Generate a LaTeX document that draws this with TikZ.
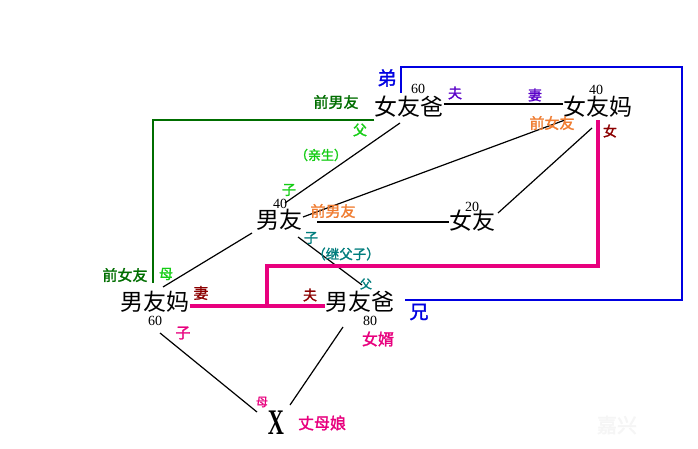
\documentclass[tikz,border=0pt]{standalone}
\usepackage{fontspec}
\newfontfamily\cjk{Noto Sans CJK SC}
\newfontfamily\cjkb[FakeBold=1.6]{Noto Sans CJK SC}
\newfontfamily\numfont{Liberation Serif}
\usepackage{tikz}
\definecolor{linkpink}{RGB}{232, 0, 126}
\definecolor{bluelink}{RGB}{0, 0, 225}
\definecolor{dkgreen}{RGB}{0, 110, 0}
\definecolor{ltgreen}{RGB}{20, 205, 20}
\definecolor{purple1}{RGB}{90, 0, 200}
\definecolor{orange1}{RGB}{240, 125, 50}
\definecolor{dkred}{RGB}{140, 0, 0}
\definecolor{teal1}{RGB}{0, 125, 125}

\begin{document}
\begin{tikzpicture}[
  x=1pt, y=-1pt,
  person/.style={inner sep=0pt, font=\cjk\fontsize{23pt}{23pt}\selectfont},
  lbl/.style={text=#1, inner sep=0pt, font=\cjkb\fontsize{14pt}{14pt}\selectfont},
  sz/.style={font=\cjkb\fontsize{#1pt}{#1pt}\selectfont},
  age/.style={inner sep=0pt, font=\numfont\fontsize{14pt}{14pt}\selectfont},
  kin/.style={draw=black, line width=1.2pt},
]
  \fill[white] (0,0) rectangle (698,449);
  \useasboundingbox (0,0) rectangle (698,449);

  % people
  \node[person] (gfdad) at (409,107) {女友爸};
  \node[person] (gfmom) at (598,107) {女友妈};
  \node[person] (bf) at (279,220) {男友};
  \node[person] (gf) at (472,221) {女友};
  \node[person] (bfmom) at (155,302) {男友妈};
  \node[person] (bfdad) at (360,302) {男友爸};
  \node[inner sep=0pt, font=\numfont\bfseries\fontsize{36pt}{36pt}\selectfont] (x) at (276,423) {\scalebox{0.62}[1]{X}};

  % ages
  \node[age] (agegfdad) at (418,89) {60};
  \node[age] (agegfmom) at (596,90) {40};
  \node[age] (agebf) at (280,204) {40};
  \node[age] (agegf) at (472,207) {20};
  \node[age] (agebfmom) at (155,321) {60};
  \node[age] (agebfdad) at (370,321) {80};

  % line ends
  \coordinate (gfdadsw) at (400,123);
  \coordinate (bfne) at (285,203);
  \coordinate (bfe) at (303,217);
  \coordinate (gfmomsw) at (565,120);
  \coordinate (gfne) at (498,213);
  \coordinate (gfmoms) at (592,128);
  \coordinate (bfsw) at (252,233);
  \coordinate (bfmomne) at (163,287);
  \coordinate (bfse) at (298,237);
  \coordinate (bfdadnw) at (362,285);
  \coordinate (bfmomse) at (160,333);
  \coordinate (xnw) at (257,412);
  \coordinate (bfdadsw) at (343,327);
  \coordinate (xne) at (290,405);
  \coordinate (bfdade) at (405,300);

  \draw[kin] (gfdad.east |- 0,104) -- (gfmom.west |- 0,104);
  \draw[kin] (gfdadsw) -- (bfne);
  \draw[kin] (bfe) -- (gfmomsw);
  \draw[kin] (bf.east |- 0,222) ++(15,0) -- (gf.west |- 0,222);
  \draw[kin] (gfne) -- (gfmoms);
  \draw[kin] (bfsw) -- (bfmomne);
  \draw[kin] (bfse) -- (bfdadnw);
  \draw[kin] (bfmomse) -- (xnw);
  \draw[kin] (bfdadsw) -- (xne);

  % step family links
  \draw[linkpink, line width=4.5pt] (bfmom.east |- 0,306) -- (bfdad.west |- 0,306);
  \draw[linkpink, line width=4.5pt] (267,306) -- (267,266) -- (598,266) -- (gfmom.south |- 0,120);
  \draw[bluelink, line width=2pt] (401,93) -- (401,67) -- (682,67) -- (682,300) -- (bfdade);
  \draw[dkgreen, line width=2.2pt] (gfdad.west |- 0,120) -- (153,120) -- (153,283);

  % relation labels
  \node[lbl=bluelink, sz=19] (ldi) at (387,78) {弟};
  \node[lbl=dkgreen, sz=15] (lexbf1) at (336,102) {前男友};
  \node[lbl=purple1] (lfu1) at (455,93) {夫};
  \node[lbl=ltgreen] (lfu2) at (360,130) {父};
  \node[lbl=purple1] (lqi1) at (535,95) {妻};
  \node[lbl=orange1, sz=15] (lexgf1) at (552,123) {前女友};
  \node[lbl=dkred] (lnv) at (610,131) {女};
  \node[lbl=ltgreen, sz=13] (lqs) at (321,155) {（亲生）};
  \node[lbl=ltgreen] (lzi1) at (289,190) {子};
  \node[lbl=orange1, sz=15] (lexbf2) at (333,211) {前男友};
  \node[lbl=teal1] (lzi2) at (311,238) {子};
  \node[lbl=teal1, sz=13.5] (ljfz) at (346,254) {（继父子）};
  \node[lbl=dkgreen, sz=15] (lexgf2) at (125,275) {前女友};
  \node[lbl=ltgreen] (lmu1) at (166,274) {母};
  \node[lbl=dkred, sz=15] (lqi2) at (201,293) {妻};
  \node[lbl=linkpink, sz=15] (lzi3) at (183,333) {子};
  \node[lbl=dkred] (lfu3) at (310,295) {夫};
  \node[lbl=teal1, sz=12] (lfu4) at (366,284) {父};
  \node[lbl=linkpink, sz=16] (lnx) at (378,339) {女婿};
  \node[lbl=bluelink, sz=19] (lxiong) at (419,312) {兄};
  \node[lbl=linkpink, sz=12] (lmu2) at (262,402) {母};
  \node[lbl=linkpink, sz=16] (lzmn) at (322,423) {丈母娘};
  \node[lbl=black!4, sz=20] (wmark) at (617,425) {嘉兴};
\end{tikzpicture}
\end{document}
